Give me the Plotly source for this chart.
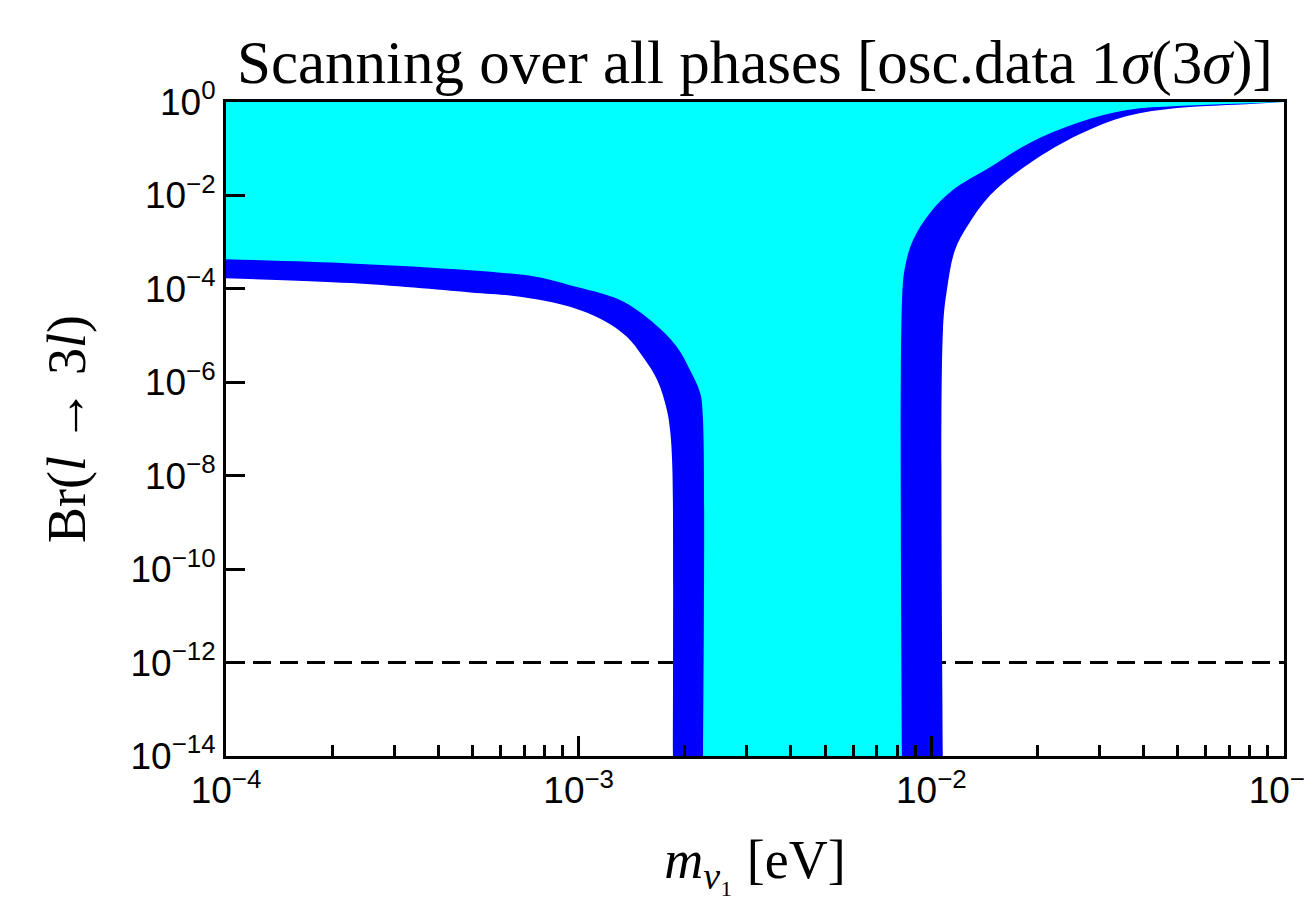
import plotly.graph_objects as go

# ---- data ----
# left branch, 1-sigma (inner / cyan boundary)
left_in_x = [1.0e-4, 2.26e-4, 4.92e-4, 7.62e-4, 9.45e-4, 1.31e-3, 1.62e-3, 1.90e-3, 2.07e-3, 2.21e-3, 2.25e-3, 2.25e-3, 2.25e-3]
left_in_y = [4.3e-4, 3.5e-4, 2.5e-4, 1.8e-4, 1.2e-4, 5.8e-5, 1.95e-5, 5.7e-6, 1.8e-6, 5.9e-7, 1.8e-7, 1e-15, 1e-16]
# left branch, 3-sigma (outer / blue lower edge)
left_out_x = [1.0e-4, 2.26e-4, 4.92e-4, 6.82e-4, 9.45e-4, 1.17e-3, 1.37e-3, 1.52e-3, 1.67e-3, 1.78e-3, 1.82e-3, 1.84e-3, 1.85e-3, 1.85e-3, 1.85e-3]
left_out_y = [1.68e-4, 1.33e-4, 8.4e-5, 6.8e-5, 4.15e-5, 2.15e-5, 9.4e-6, 3.5e-6, 1.12e-6, 2.5e-7, 8.2e-8, 2.2e-8, 3.0e-9, 1e-15, 1e-16]
# right branch, 1-sigma (inner / cyan boundary)
right_in_x = [8.26e-3, 8.26e-3, 8.26e-3, 8.42e-3, 8.87e-3, 9.91e-3, 1.15e-2, 1.47e-2, 1.90e-2, 2.64e-2, 3.59e-2, 4.97e-2, 6.89e-2, 1.0e-1]
right_in_y = [1e-16, 1e-15, 5.8e-5, 2.9e-4, 1.1e-3, 4.2e-3, 1.3e-2, 4.06e-2, 0.133, 0.373, 0.674, 0.82, 0.906, 1.0]
# right branch, 3-sigma (outer / blue right edge)
right_out_x = [1.079e-2, 1.079e-2, 1.079e-2, 1.107e-2, 1.167e-2, 1.27e-2, 1.47e-2, 1.90e-2, 2.64e-2, 3.59e-2, 4.97e-2, 6.89e-2, 1.0e-1]
right_out_y = [1e-16, 1e-15, 1.3e-5, 9.4e-5, 6.8e-4, 2.3e-3, 1.02e-2, 4.9e-2, 0.206, 0.50, 0.74, 0.86, 1.0]

limit_y = 1e-12
x_range = [1e-4, 1e-1]
y_range = [1e-14, 1.0]

y_tickvals = [1e-14, 1e-12, 1e-10, 1e-8, 1e-6, 1e-4, 1e-2, 1.0]
y_ticktext = ["10<sup>−14</sup>", "10<sup>−12</sup>", "10<sup>−10</sup>", "10<sup>−8</sup>",
              "10<sup>−6</sup>", "10<sup>−4</sup>", "10<sup>−2</sup>", "10<sup>0</sup>"]
x_tickvals = [1e-4, 1e-3, 1e-2, 1e-1]
x_ticktext = ["10<sup>−4</sup>", "10<sup>−3</sup>", "10<sup>−2</sup>", "10<sup>−1</sup>"]
x_minor = [m * d for d in (1e-4, 1e-3, 1e-2) for m in range(2, 10)]

fig = go.Figure()

fig.add_trace(go.Scatter(x=x_range, y=[limit_y, limit_y], mode="lines",
                         line=dict(color="black", width=3, dash="18px,9px"),
                         hoverinfo="skip", showlegend=False))


def add_region(lx, ly, rx, ry, color):
    # boundary curve (left branch + right branch), then the top edge filled to it
    fig.add_trace(go.Scatter(x=lx + rx, y=ly + ry, mode="lines",
                             line=dict(width=0, color=color, shape="spline", smoothing=1.0),
                             showlegend=False, hoverinfo="skip"))
    fig.add_trace(go.Scatter(x=[x_range[0], x_range[1]], y=[y_range[1], y_range[1]], mode="lines",
                             fill="tonexty", fillcolor=color,
                             line=dict(width=0, color=color),
                             showlegend=False, hoverinfo="skip"))


add_region(left_out_x, left_out_y, right_out_x, right_out_y, "#0000FF")
add_region(left_in_x, left_in_y, right_in_x, right_in_y, "#00FFFF")

tickfont = dict(family="Liberation Sans, Arial, sans-serif", size=37, color="black")
serif = "Liberation Serif, DejaVu Serif, serif"

# page body has an 8px margin: figure is shifted by 8px right/down
fig.update_layout(
    width=1304, height=889,
    margin=dict(l=218, r=28, t=94, b=141, autoexpand=False),
    paper_bgcolor="white", plot_bgcolor="white",
    title=dict(text="Scanning over all phases [osc.data 1<i>σ</i>(3<i>σ</i>)]",
               x=0.5, xref="paper", xanchor="center", y=0.94, yref="container", yanchor="middle",
               font=dict(family=serif, size=61, color="black")),
    xaxis=dict(type="log", range=[-4, -1], showgrid=False, zeroline=False, automargin=False,
               showline=True, linecolor="black", linewidth=3, mirror=True,
               ticks="inside", ticklen=20, tickwidth=3, tickcolor="black",
               tickvals=x_tickvals, ticktext=x_ticktext, tickfont=tickfont,
               ticklabeloverflow="allow",
               minor=dict(ticks="inside", ticklen=11, tickwidth=3, tickcolor="black",
                          tickvals=x_minor, showgrid=False),
               title=dict(text="<i>m</i><sub><i>ν</i>₁</sub> [eV]",
                          font=dict(family=serif, size=54, color="black"), standoff=36)),
    yaxis=dict(type="log", range=[-14, 0], showgrid=False, zeroline=False, automargin=False,
               showline=True, linecolor="black", linewidth=3, mirror=True,
               ticks="inside", ticklen=19, tickwidth=3, tickcolor="black",
               tickvals=y_tickvals, ticktext=y_ticktext, tickfont=tickfont,
               title=dict(text="Br(<i>l</i> → 3<i>l</i>)",
                          font=dict(family=serif, size=54, color="black"), standoff=28)),
)

fig.write_html("out.html")
